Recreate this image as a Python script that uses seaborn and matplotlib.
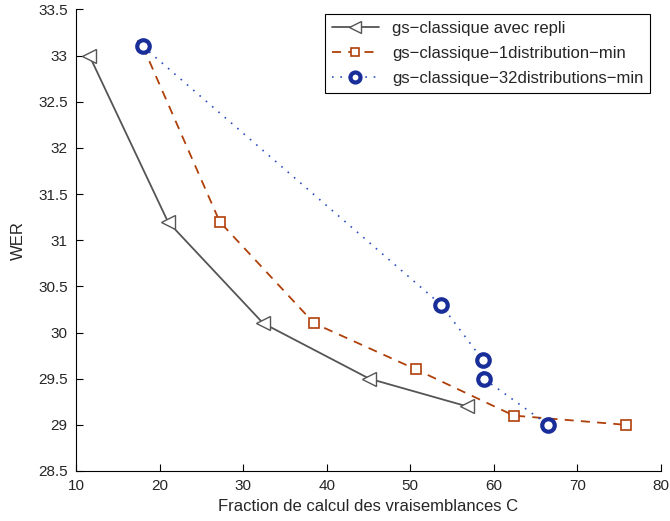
import matplotlib
matplotlib.use("Agg")
import matplotlib.pyplot as plt
import seaborn as sns
import pandas as pd

# series
repli_x = [11.6, 21.0, 32.4, 45.1, 56.8]
repli_y = [33.0, 31.2, 30.1, 29.5, 29.2]

one_x = [18.0, 27.2, 38.5, 50.7, 62.4, 75.8]
one_y = [33.1, 31.2, 30.1, 29.6, 29.1, 29.0]

many_x = [18.0, 53.7, 58.7, 58.8, 66.5]
many_y = [33.1, 30.3, 29.7, 29.5, 29.0]

labels = ["gs\u2212classique avec repli",
          "gs\u2212classique\u22121distribution\u2212min",
          "gs\u2212classique\u221232distributions\u2212min"]

sns.set_style("white")
plt.rcParams['font.family'] = ['Liberation Sans', 'DejaVu Sans']

fig = plt.figure(figsize=(6.7, 5.21), dpi=100)
ax = fig.add_axes([0.1134, 0.096, 0.873, 0.886])

df1 = pd.DataFrame({"x": repli_x, "y": repli_y})
df2 = pd.DataFrame({"x": one_x, "y": one_y})
df3 = pd.DataFrame({"x": many_x, "y": many_y})

sns.lineplot(data=df1, x="x", y="y", ax=ax, sort=False, estimator=None,
             color="#555555", lw=1.3, marker="<", markersize=10,
             markerfacecolor="white", markeredgecolor="#555555",
             markeredgewidth=1.0, label=labels[0])
sns.lineplot(data=df2, x="x", y="y", ax=ax, sort=False, estimator=None,
             color="#b0400a", lw=1.3, dashes=(5, 4), marker="s", markersize=7,
             markerfacecolor="white", markeredgecolor="#b0400a",
             markeredgewidth=1.2, label=labels[1])
sns.lineplot(data=df3, x="x", y="y", ax=ax, sort=False, estimator=None,
             color="#3050c0", lw=1.2, dashes=(1, 4), marker="o", markersize=9,
             markerfacecolor="white", markeredgecolor="#1a2e99",
             markeredgewidth=3.0, label=labels[2])

ax.set_xlim(10, 80)
ax.set_ylim(28.5, 33.5)
ax.set_xticks(range(10, 81, 10))
ax.set_yticks([28.5 + 0.5 * i for i in range(11)])
ax.set_yticklabels([f"{v:g}" for v in ax.get_yticks()])
ax.tick_params(direction="in", bottom=True, left=True, top=False, right=False,
               length=5, width=0.8, color="black", labelsize=11, pad=6)
ax.spines["top"].set_visible(False)
ax.spines["right"].set_visible(False)
for s in ["left", "bottom"]:
    ax.spines[s].set_color("black")
    ax.spines[s].set_linewidth(0.8)
ax.set_xlabel("Fraction de calcul des vraisemblances C", fontsize=12)
ax.set_ylabel("WER", fontsize=12, labelpad=9)

leg = ax.legend(loc="upper right", fontsize=12, fancybox=False,
                edgecolor="black", framealpha=1, handlelength=2.8,
                borderaxespad=0.3, labelspacing=0.6, markerscale=0.8,
                bbox_to_anchor=(0.99, 1.0))
leg.get_frame().set_linewidth(0.8)

fig.savefig("out.png", dpi=100)
